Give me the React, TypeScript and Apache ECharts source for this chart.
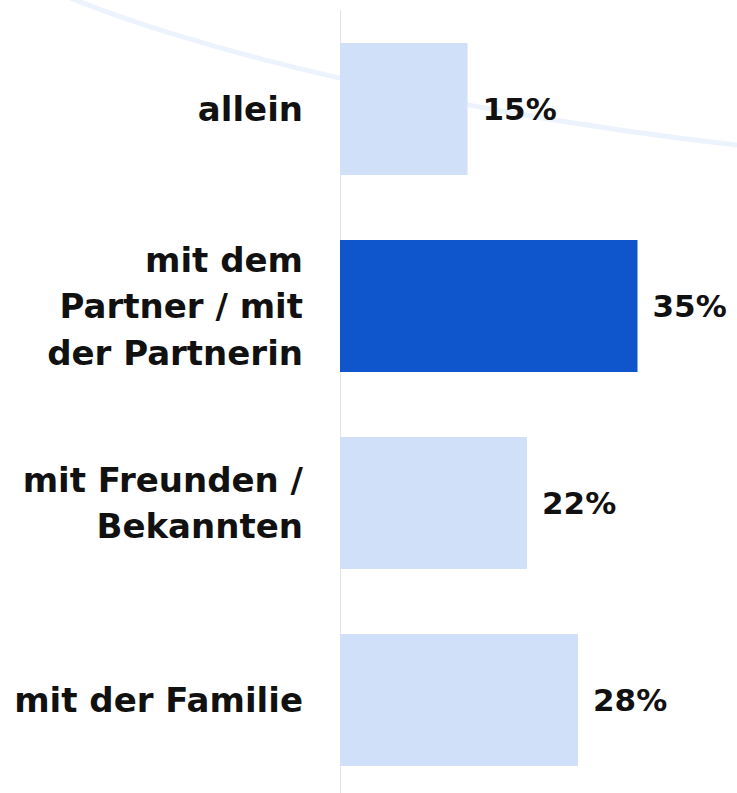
import React, { useEffect, useRef } from "react";
import * as echarts from "echarts";

const categories = [
  "allein",
  "mit dem\nPartner / mit\nder Partnerin",
  "mit Freunden /\nBekannten",
  "mit der Familie",
];
const values = [15, 35, 22, 28];
const highlightIndex = 1;

export default function App() {
  const ref = useRef<HTMLDivElement>(null);
  useEffect(() => {
    if (!ref.current) return;
    const chart = echarts.init(ref.current, null, { renderer: "svg" });
    const font = "'DejaVu Sans', sans-serif";
    chart.setOption({
      animation: false,
      backgroundColor: "#ffffff",
      grid: { left: 340, top: 10.5, width: 340, height: 788, containLabel: false },
      xAxis: {
        type: "value",
        min: 0,
        max: 40,
        show: false,
        splitLine: { show: false },
      },
      yAxis: {
        type: "category",
        inverse: true,
        data: categories,
        axisLine: { show: true, lineStyle: { color: "#e3e3e3", width: 1 } },
        axisTick: { show: false },
        axisLabel: {
          margin: 37,
          fontFamily: font,
          fontSize: 34,
          fontWeight: "bold",
          color: "#111111",
          lineHeight: 46.5,
          align: "right",
        },
      },
      graphic: [
        {
          type: "bezierCurve",
          z: 0,
          silent: true,
          shape: { x1: 70, y1: -2, cpx1: 205, cpy1: 52, cpx2: 450, cpy2: 113, x2: 745, y2: 146 },
          style: { stroke: "#edf3fc", lineWidth: 5, fill: null },
        },
      ],
      series: [
        {
          type: "bar",
          z: 5,
          barWidth: 132,
          data: values.map((v, i) => ({
            value: v,
            itemStyle: { color: i === highlightIndex ? "#0f55cc" : "#cfe0f8" },
          })),
          label: {
            show: true,
            position: "right",
            distance: 15,
            formatter: "{c}%",
            fontFamily: font,
            fontSize: 31,
            fontWeight: "bold",
            color: "#111111",
          },
        },
      ],
    });
    return () => chart.dispose();
  }, []);
  return (
    <div
      ref={ref}
      style={{ position: "fixed", left: 0, top: 0, width: 737, height: 800 }}
    />
  );
}
